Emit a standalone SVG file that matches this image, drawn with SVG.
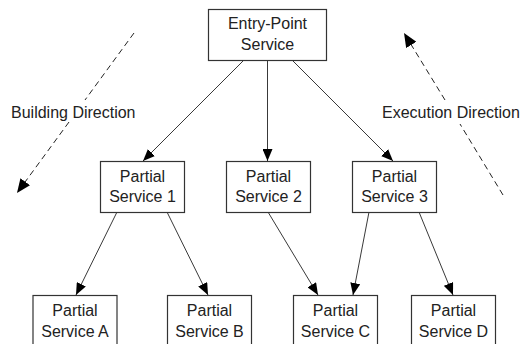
<svg xmlns="http://www.w3.org/2000/svg" width="525" height="344" viewBox="0 0 525 344">
<style>
.box{fill:#fff;stroke:#333;stroke-width:1.2}
.lbl{font-family:"Liberation Sans",Arial,sans-serif;font-size:16px;fill:#222;text-anchor:middle}
.dir{font-family:"Liberation Sans",Arial,sans-serif;font-size:16px;fill:#222}
.edge{stroke:#222;stroke-width:0.9;fill:none}
.dash{stroke:#222;stroke-width:1;fill:none;stroke-dasharray:6 4}
</style>
<defs>
<marker id="ah" markerUnits="userSpaceOnUse" markerWidth="12" markerHeight="10" viewBox="0 0 12 10" refX="12" refY="5" orient="auto">
<path d="M0,0 L12,5 L0,10 z" fill="#000"/>
</marker>
<marker id="ahd" markerUnits="userSpaceOnUse" markerWidth="14" markerHeight="12" viewBox="0 0 14 12" refX="14" refY="6" orient="auto">
<path d="M0,0 L14,6 L0,12 z" fill="#000"/>
</marker>
</defs>
<rect width="525" height="344" fill="#fff"/>
<g id="connectors">
<line class="edge" x1="244" y1="60" x2="143" y2="161" marker-end="url(#ah)"/>
<line class="edge" x1="267.5" y1="60" x2="267.5" y2="161" marker-end="url(#ah)"/>
<line class="edge" x1="292" y1="60" x2="393" y2="161" marker-end="url(#ah)"/>
<line class="edge" x1="117" y1="212" x2="76" y2="295" marker-end="url(#ah)"/>
<line class="edge" x1="167" y1="212" x2="208" y2="295" marker-end="url(#ah)"/>
<line class="edge" x1="268" y1="212" x2="318" y2="295" marker-end="url(#ah)"/>
<line class="edge" x1="369" y1="212" x2="353" y2="295" marker-end="url(#ah)"/>
<line class="edge" x1="419" y1="212" x2="453" y2="295" marker-end="url(#ah)"/>
</g>
<g id="building-direction">
<line class="dash" x1="134" y1="33" x2="85" y2="100"/>
<line class="dash" x1="69" y1="122" x2="17" y2="193" marker-end="url(#ahd)"/>
<text class="dir" x="11" y="118">Building Direction</text>
</g>
<g id="execution-direction">
<line class="dash" x1="503" y1="195" x2="460" y2="124"/>
<line class="dash" x1="445" y1="100" x2="404" y2="33" marker-end="url(#ahd)"/>
<text class="dir" x="382" y="118">Execution Direction</text>
</g>
<g id="entry">
<rect class="box" x="208.5" y="9.5" width="118" height="51"/>
<text class="lbl" x="267.5" y="29">Entry-Point</text>
<text class="lbl" x="267.5" y="50">Service</text>
</g>
<g id="ps1">
<rect class="box" x="100.5" y="161.5" width="84" height="51"/>
<text class="lbl" x="142.5" y="182">Partial</text>
<text class="lbl" x="142.5" y="202">Service 1</text>
</g>
<g id="ps2">
<rect class="box" x="226.5" y="161.5" width="84" height="51"/>
<text class="lbl" x="268.5" y="182">Partial</text>
<text class="lbl" x="268.5" y="202">Service 2</text>
</g>
<g id="ps3">
<rect class="box" x="352.5" y="161.5" width="84" height="51"/>
<text class="lbl" x="394.5" y="182">Partial</text>
<text class="lbl" x="394.5" y="202">Service 3</text>
</g>
<g id="psA">
<rect class="box" x="33" y="295.5" width="84" height="52"/>
<text class="lbl" x="75" y="316">Partial</text>
<text class="lbl" x="75" y="336.5">Service A</text>
</g>
<g id="psB">
<rect class="box" x="167.5" y="295.5" width="84" height="52"/>
<text class="lbl" x="209.5" y="316">Partial</text>
<text class="lbl" x="209.5" y="336.5">Service B</text>
</g>
<g id="psC">
<rect class="box" x="293.5" y="295.5" width="84" height="52"/>
<text class="lbl" x="335.5" y="316">Partial</text>
<text class="lbl" x="335.5" y="336.5">Service C</text>
</g>
<g id="psD">
<rect class="box" x="411.5" y="295.5" width="84" height="52"/>
<text class="lbl" x="453.5" y="316">Partial</text>
<text class="lbl" x="453.5" y="336.5">Service D</text>
</g>
</svg>
